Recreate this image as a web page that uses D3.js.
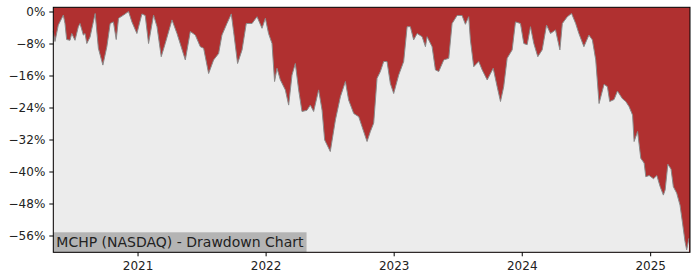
<!DOCTYPE html>
<meta charset="utf-8">
<style>
body { margin: 0; background: #fff; }
text { font-family: "DejaVu Sans", sans-serif; fill: #222; }
</style>
<body>
<script src="https://cdn.jsdelivr.net/npm/d3@7"></script>
<script>

// dates as decimal years, drawdown in percent
var dates = [
  2020.344, 2020.357, 2020.383, 2020.422, 2020.435, 2020.448, 2020.474, 2020.488, 2020.513, 2020.539,
  2020.552, 2020.578, 2020.591, 2020.605, 2020.630, 2020.670, 2020.695, 2020.730, 2020.761, 2020.787,
  2020.812, 2020.834, 2020.852, 2020.891, 2020.930, 2020.956, 2020.995, 2021.034, 2021.060, 2021.086,
  2021.125, 2021.152, 2021.185, 2021.216, 2021.269, 2021.308, 2021.373, 2021.412, 2021.451, 2021.490,
  2021.516, 2021.555, 2021.594, 2021.633, 2021.659, 2021.698, 2021.732, 2021.750, 2021.781, 2021.816,
  2021.849, 2021.894, 2021.933, 2021.972, 2021.998, 2022.023, 2022.050, 2022.070, 2022.089, 2022.115,
  2022.154, 2022.180, 2022.206, 2022.232, 2022.258, 2022.284, 2022.323, 2022.349, 2022.375, 2022.414,
  2022.441, 2022.461, 2022.505, 2022.545, 2022.584, 2022.623, 2022.648, 2022.688, 2022.727, 2022.753,
  2022.792, 2022.818, 2022.844, 2022.870, 2022.896, 2022.922, 2022.948, 2022.974, 2023.000, 2023.039,
  2023.078, 2023.105, 2023.130, 2023.156, 2023.183, 2023.222, 2023.248, 2023.261, 2023.300, 2023.326,
  2023.352, 2023.391, 2023.430, 2023.456, 2023.495, 2023.534, 2023.560, 2023.586, 2023.599, 2023.625,
  2023.664, 2023.691, 2023.730, 2023.777, 2023.808, 2023.834, 2023.859, 2023.886, 2023.925, 2023.951,
  2023.990, 2024.016, 2024.042, 2024.068, 2024.094, 2024.125, 2024.159, 2024.193, 2024.224, 2024.263,
  2024.297, 2024.316, 2024.355, 2024.388, 2024.420, 2024.445, 2024.484, 2024.523, 2024.550, 2024.576,
  2024.602, 2024.641, 2024.667, 2024.685, 2024.719, 2024.745, 2024.784, 2024.810, 2024.836, 2024.863,
  2024.875, 2024.902, 2024.927, 2024.953, 2024.966, 2024.992, 2025.026, 2025.052, 2025.078, 2025.103,
  2025.117, 2025.138, 2025.163, 2025.181, 2025.207, 2025.233, 2025.251, 2025.272, 2025.285, 2025.303
];

var drawdown = [
  -5.0, -7.5, -3.4, -0.9, -3.0, -7.0, -7.2, -5.5, -7.2, -3.8,
  -3.0, -5.9, -5.5, -8.0, -6.4, -0.5, -9.2, -13.4, -8.8, -3.0,
  -2.6, -7.0, -1.7, -0.9, 0.0, -2.6, -5.5, -0.6, -1.0, -8.0,
  -0.9, -3.8, -11.3, -8.0, -2.1, -5.5, -12.1, -5.0, -5.9, -8.8,
  -9.2, -15.5, -12.1, -10.5, -5.9, -3.0, -0.6, -5.0, -13.0, -9.6,
  -3.0, -3.0, -1.3, -4.2, -1.7, -5.5, -8.0, -17.5, -14.2, -17.1,
  -19.6, -23.4, -15.9, -13.0, -19.6, -25.0, -24.7, -23.4, -25.0, -19.6,
  -24.7, -32.1, -35.0, -27.1, -21.3, -17.5, -22.1, -25.5, -26.3, -28.8,
  -32.5, -30.0, -27.9, -16.7, -15.0, -12.5, -12.5, -18.0, -20.5, -15.9,
  -12.5, -3.8, -3.8, -7.1, -5.5, -6.3, -8.8, -6.3, -8.8, -14.6,
  -15.0, -12.1, -11.7, -3.0, -1.0, -1.0, -3.2, -1.3, -7.1, -13.8,
  -12.5, -14.6, -17.1, -14.2, -18.8, -22.5, -18.8, -11.7, -9.6, -2.6,
  -3.0, -8.0, -8.3, -3.8, -8.0, -11.3, -9.6, -3.4, -5.5, -4.6,
  -9.6, -3.0, -1.3, -0.5, -3.0, -5.5, -8.8, -5.9, -7.1, -12.1,
  -23.0, -18.2, -18.8, -22.5, -22.0, -19.9, -21.8, -22.5, -23.8, -25.9,
  -32.5, -30.0, -36.7, -37.9, -41.3, -41.0, -41.8, -41.0, -43.8, -45.9,
  -44.6, -38.2, -39.4, -43.8, -45.4, -48.4, -52.5, -57.5, -59.6, -56.7
];

var yTicks = [0, -8, -16, -24, -32, -40, -48, -56];
var xTickYears = [2021, 2022, 2023, 2024, 2025];
var title = "MCHP (NASDAQ) - Drawdown Chart";

function toDate(dy) {
  var yr = Math.floor(dy),
      start = new Date(yr, 0, 1),
      end = new Date(yr + 1, 0, 1);
  return new Date(+start + (dy - yr) * (end - start));
}

var data = dates.map(function(d, i) { return {date: toDate(d), value: drawdown[i]}; });

var width = 700, height = 280;
var plotLeft = 53.3, plotRight = 690, plotTop = 7.3, plotBottom = 252.3;

var x = d3.scaleTime()
    .domain([toDate(2020.344), toDate(2025.311)])
    .range([plotLeft, plotRight]);

var y = d3.scaleLinear()
    .domain([-60.2, 1.05])
    .range([plotBottom, plotTop]);

var svg = d3.select("body").append("svg")
    .attr("width", width)
    .attr("height", height);

// red above the line, grey below
svg.append("rect")
    .attr("x", plotLeft).attr("y", plotTop)
    .attr("width", plotRight - plotLeft).attr("height", plotBottom - plotTop)
    .attr("fill", "#b03030");

var area = d3.area()
    .x(function(d) { return x(d.date); })
    .y0(plotBottom)
    .y1(function(d) { return y(d.value); });

svg.append("path")
    .datum(data)
    .attr("d", area)
    .attr("fill", "#ececec");

var line = d3.line()
    .x(function(d) { return x(d.date); })
    .y(function(d) { return y(d.value); });

svg.append("path")
    .datum(data)
    .attr("d", line)
    .attr("fill", "none")
    .attr("stroke", "#8a8a8a")
    .attr("stroke-width", 1);

// title box
var tg = svg.append("g");
var tbox = tg.append("rect").attr("fill", "#b4b4b4");
var ttext = tg.append("text")
    .attr("x", plotLeft + 3)
    .attr("y", plotBottom - 5)
    .style("font-size", "14px")
    .text(title);
var tw = ttext.node().getComputedTextLength();
tbox.attr("x", plotLeft).attr("y", plotBottom - 20)
    .attr("width", tw + 6).attr("height", 20);

// axes
var yAxis = d3.axisLeft(y)
    .tickValues(yTicks)
    .tickSize(4)
    .tickPadding(4)
    .tickFormat(function(d) { return (d < 0 ? "\u2212" + (-d) : d) + "%"; });

svg.append("g")
    .attr("transform", "translate(" + plotLeft + ",0)")
    .call(yAxis)
    .call(function(g) {
      g.select(".domain").remove();
      g.selectAll("text").style("font-size", "12px").attr("fill", "#222");
    });

var xAxis = d3.axisBottom(x)
    .tickValues(xTickYears.map(function(yr) { return new Date(yr, 0, 1); }))
    .tickSize(4)
    .tickPadding(5)
    .tickFormat(d3.timeFormat("%Y"));

svg.append("g")
    .attr("transform", "translate(0," + plotBottom + ")")
    .call(xAxis)
    .call(function(g) {
      g.select(".domain").remove();
      g.selectAll("text").style("font-size", "12px").attr("fill", "#222");
    });

// frame
svg.append("rect")
    .attr("x", plotLeft).attr("y", plotTop)
    .attr("width", plotRight - plotLeft).attr("height", plotBottom - plotTop)
    .attr("fill", "none")
    .attr("stroke", "#000")
    .attr("stroke-width", 1);

</script>
</body>
